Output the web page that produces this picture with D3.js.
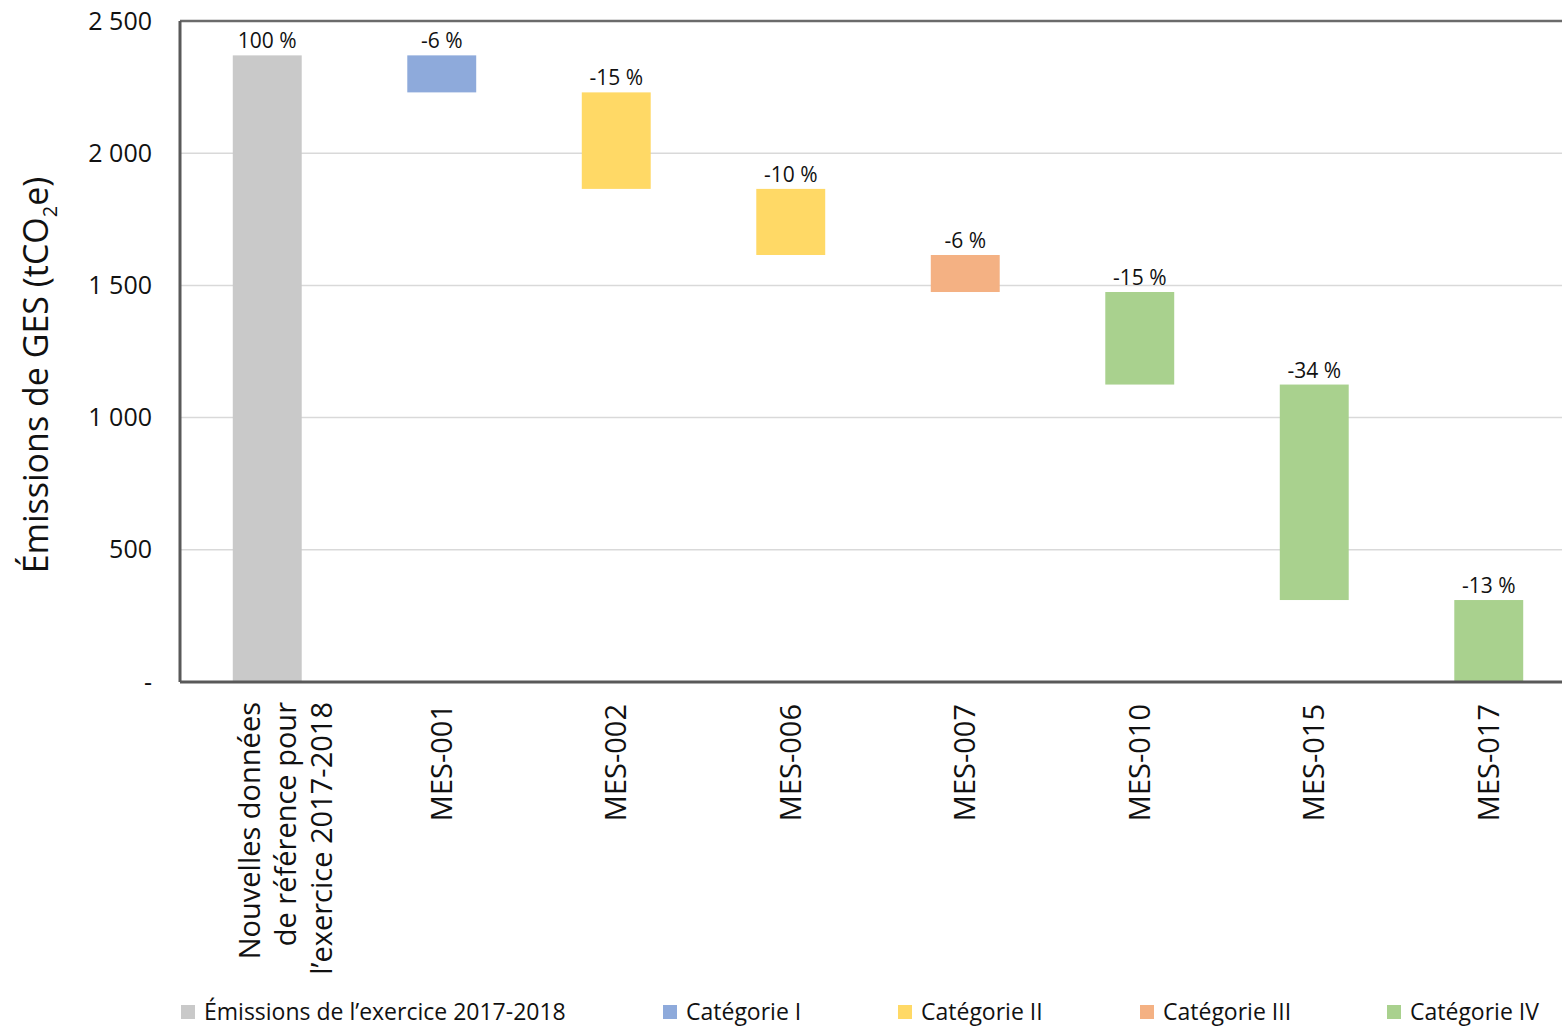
<!DOCTYPE html>
<html><head><meta charset="utf-8">
<script src="https://cdn.jsdelivr.net/npm/d3@7"></script>
<style>body{margin:0;background:#fff}svg{display:block;font-family:"Open Sans",sans-serif}</style>
</head><body>
<svg id="c" width="1562" height="1028"></svg>
<script>
const categories = ["base","MES-001","MES-002","MES-006","MES-007","MES-010","MES-015","MES-017"];
const baseLabelLines = ["Nouvelles données","de référence pour","l’exercice 2017-2018"];
const baseline = 2370;
const reductions = [140, 365, 250, 140, 350, 815, 310];
const pctLabels = ["100 %","-6 %","-15 %","-10 %","-6 %","-15 %","-34 %","-13 %"];
const groups = ["E","I","II","II","III","IV","IV","IV"];
const legendKeys = ["E","I","II","III","IV"];
const legendNames = ["Émissions de l’exercice 2017-2018","Catégorie I","Catégorie II","Catégorie III","Catégorie IV"];
const legendColors = ["#c9c9c9","#8eaadb","#ffd966","#f4b183","#a9d18e"];
const yTicks = [0,500,1000,1500,2000,2500];
const yTickLabels = ["-","500","1 000","1 500","2 000","2 500"];

// build waterfall rows
const rows = [];
let cur = baseline;
rows.push({cat:categories[0], y0:0, y1:baseline, g:groups[0], lab:pctLabels[0]});
reductions.forEach((r,i)=>{ rows.push({cat:categories[i+1], y0:cur-r, y1:cur, g:groups[i+1], lab:pctLabels[i+1]}); cur -= r; });

const svg = d3.select("#c");
const L=180, R=1576, T=21, B=682;
const x = d3.scaleBand().domain(categories).range([L,R]).paddingInner(0.605).paddingOuter(0.3025);
const y = d3.scaleLinear().domain([0,2500]).range([B,T]);
const color = d3.scaleOrdinal().domain(legendKeys).range(legendColors);

// gridlines
svg.append("g").selectAll("line").data(yTicks.filter(d=>d>0&&d<2500)).join("line")
  .attr("x1",L).attr("x2",1562).attr("y1",d=>y(d)).attr("y2",d=>y(d))
  .attr("stroke","#d9d9d9").attr("stroke-width",1.5);

// bars
svg.append("g").selectAll("rect").data(rows).join("rect")
  .attr("x",d=>x(d.cat)).attr("width",x.bandwidth())
  .attr("y",d=>y(d.y1)).attr("height",d=>y(d.y0)-y(d.y1))
  .attr("fill",d=>color(d.g));

// value labels
svg.append("g").selectAll("text").data(rows).join("text")
  .attr("x",d=>x(d.cat)+x.bandwidth()/2).attr("y",d=>y(d.y1)-7)
  .attr("text-anchor","middle").attr("font-size",21).attr("fill","#111")
  .text(d=>d.lab);

// frame
svg.append("line").attr("x1",L).attr("x2",1562).attr("y1",T).attr("y2",T).attr("stroke","#6b6b6b").attr("stroke-width",2.5);
svg.append("line").attr("x1",L).attr("x2",L).attr("y1",T).attr("y2",B).attr("stroke","#595959").attr("stroke-width",3);
svg.append("line").attr("x1",L).attr("x2",1562).attr("y1",B).attr("y2",B).attr("stroke","#595959").attr("stroke-width",3);

// y axis
const yAxis = d3.axisLeft(y).tickValues(yTicks).tickFormat((d,i)=>yTickLabels[i]).tickSize(0).tickPadding(28);
const ya = svg.append("g").attr("transform",`translate(${L},0)`).call(yAxis);
ya.select(".domain").remove();
ya.selectAll("text").attr("font-size",25).attr("font-family","Open Sans, sans-serif").attr("fill","#111");

// y title
const yt = svg.append("text").attr("transform","translate(48,375) rotate(-90)")
  .attr("text-anchor","middle").attr("font-size",34).attr("fill","#111");
yt.append("tspan").text("Émissions de GES (tCO");
yt.append("tspan").attr("font-size",20).attr("dy",9).text("2");
yt.append("tspan").attr("dy",-9).text("e)");

// x axis labels
const xAxis = d3.axisBottom(x).tickSize(0).tickFormat(d=>d==="base"?"":d);
const xa = svg.append("g").attr("transform",`translate(0,${B})`).call(xAxis);
xa.select(".domain").remove();
xa.selectAll("text").attr("font-size",29).attr("font-family","Open Sans, sans-serif").attr("fill","#111")
  .attr("text-anchor","end").attr("dy",null).attr("y",0)
  .attr("transform","translate(10,22) rotate(-90)");
// base multiline label
const bx = x("base")+x.bandwidth()/2;
const bl = svg.append("text").attr("transform",`translate(${bx},${B+20}) rotate(-90)`)
  .attr("text-anchor","end").attr("font-size",29).attr("fill","#111");
baseLabelLines.forEach((t,i)=>bl.append("tspan").attr("x",0).attr("y",(i-1)*36+29).text(t));

// legend
const legX = [181,663,898,1140,1387];
const lg = svg.append("g").selectAll("g").data(legendKeys).join("g")
  .attr("transform",(d,i)=>`translate(${legX[i]},1012)`);
lg.append("rect").attr("x",0).attr("y",-7).attr("width",14).attr("height",14).attr("fill",(d,i)=>legendColors[i]);
lg.append("text").attr("x",23).attr("y",8).attr("font-size",23).attr("fill","#111").text((d,i)=>legendNames[i]);
</script>
</body></html>
